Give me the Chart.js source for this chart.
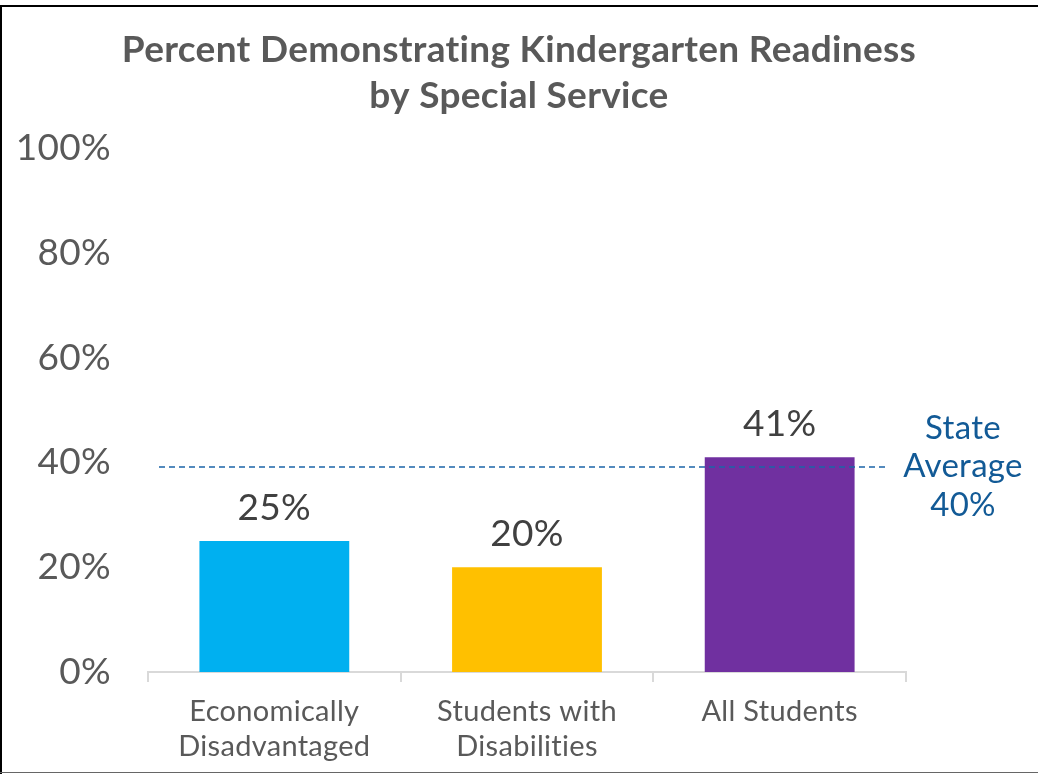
<!DOCTYPE html>
<html>
<head>
<meta charset="utf-8">
<script src="https://cdn.jsdelivr.net/npm/chart.js@4.4.1/dist/chart.umd.min.js"></script>
<style>
html,body{margin:0;padding:0;background:#fff;}
#wrap{width:1038px;height:774px;position:relative;}
</style>
</head>
<body>
<div id="wrap"><canvas id="c" width="1038" height="774"></canvas></div>
<script>
const titleLines = ["Percent Demonstrating Kindergarten Readiness", "by Special Service"];
const categories = [["Economically", "Disadvantaged"], ["Students with", "Disabilities"], ["All Students"]];
const values = [25, 20, 41];
const barColors = ["#00B0F0", "#FFC000", "#7030A0"];
const yTicks = [0, 20, 40, 60, 80, 100];
const stateAverageLine = 39.1;
const stateAverageLabel = ["State", "Average", "40%"];

const FONT = "Lato, 'Open Sans', sans-serif";

const spacingPlugin = {
  id: 'spacing',
  beforeDraw(chart) {
    try { chart.ctx.letterSpacing = '0.3px'; } catch (e) {}
  }
};

const framePlugin = {
  id: 'frame',
  afterDraw(chart) {
    const ctx = chart.ctx;
    ctx.save();
    ctx.fillStyle = '#000';
    ctx.fillRect(0, 5, 1038, 2);
    ctx.fillRect(0, 5, 2, 769);
    ctx.fillStyle = '#666';
    ctx.fillRect(0, 772, 1038, 1);
    ctx.restore();
  }
};

const labelPlugin = {
  id: 'barLabels',
  afterDatasetsDraw(chart) {
    const ctx = chart.ctx;
    const meta = chart.getDatasetMeta(0);
    ctx.save();
    ctx.font = "37px " + FONT;
    ctx.fillStyle = '#404040';
    ctx.textAlign = 'center';
    ctx.textBaseline = 'middle';
    meta.data.forEach((bar, i) => {
      ctx.fillText(values[i] + '%', bar.x, bar.y - 33);
    });
    ctx.restore();
  }
};

const avgPlugin = {
  id: 'stateAvg',
  afterDatasetsDraw(chart) {
    const ctx = chart.ctx;
    const y = chart.scales.y.getPixelForValue(stateAverageLine);
    const area = chart.chartArea;
    ctx.save();
    ctx.strokeStyle = '#1B64A8';
    ctx.lineWidth = 1.5;
    ctx.setLineDash([6, 4]);
    ctx.beginPath();
    ctx.moveTo(area.left + 11, y);
    ctx.lineTo(area.right - 18, y);
    ctx.stroke();
    ctx.setLineDash([]);
    ctx.font = "33px " + FONT;
    ctx.fillStyle = '#125A96';
    ctx.textAlign = 'center';
    ctx.textBaseline = 'middle';
    const cx = area.right + 57;
    stateAverageLabel.forEach((t, i) => {
      ctx.fillText(t, cx, y - 39 + i * 38.5);
    });
    ctx.restore();
  }
};

new Chart(document.getElementById('c'), {
  type: 'bar',
  data: {
    labels: categories,
    datasets: [{
      data: values,
      backgroundColor: barColors,
      barPercentage: 0.593,
      categoryPercentage: 1.0
    }]
  },
  options: {
    responsive: false,
    animation: false,
    layout: { padding: 0 },
    plugins: {
      legend: { display: false },
      tooltip: { enabled: false },
      title: {
        display: true,
        text: titleLines,
        color: '#595959',
        font: { family: FONT, size: 37, weight: 'bold', lineHeight: 1.243 },
        padding: { top: 27, bottom: 29 }
      }
    },
    scales: {
      y: {
        min: 0, max: 100,
        afterBuildTicks(scale) { scale.ticks = yTicks.map(v => ({ value: v })); },
        afterFit(scale) { scale.width = 148; },
        grid: { display: false },
        border: { display: false },
        ticks: {
          color: '#595959',
          padding: 29,
          font: { family: FONT, size: 37 },
          callback: v => v + '%'
        }
      },
      yR: {
        position: 'right',
        min: 0, max: 100,
        afterFit(scale) { scale.width = 132; },
        grid: { display: false },
        border: { display: false },
        ticks: { display: false }
      },
      x: {
        afterFit(scale) { scale.height = 102; },
        grid: {
          display: true,
          offset: true,
          drawOnChartArea: false,
          drawTicks: true,
          tickLength: 10,
          color: '#D9D9D9',
          lineWidth: 2
        },
        border: { display: true, color: '#D9D9D9', width: 2 },
        ticks: {
          color: '#595959',
          padding: 12,
          maxRotation: 0,
          autoSkip: false,
          font: { family: FONT, size: 29, lineHeight: 1.2 }
        }
      }
    }
  },
  plugins: [spacingPlugin, framePlugin, labelPlugin, avgPlugin]
});
</script>
</body>
</html>
